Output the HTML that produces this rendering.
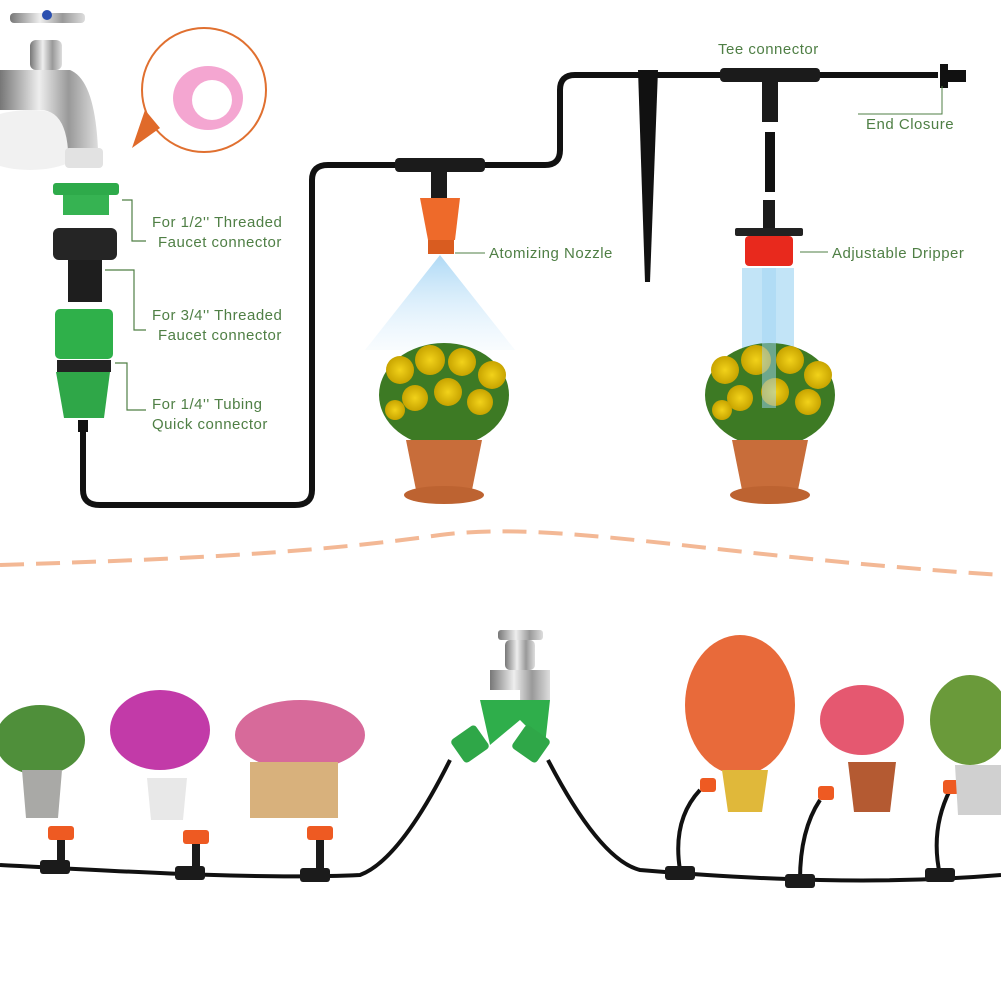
<!DOCTYPE html>
<html><head><meta charset="utf-8"><style>
html,body{margin:0;padding:0;background:#fff;}
svg{display:block;}
text{font-family:"Liberation Sans",sans-serif;font-size:15px;fill:#4f7f45;letter-spacing:0.5px;}
</style></head><body>
<svg width="1001" height="1001" viewBox="0 0 1001 1001" xmlns="http://www.w3.org/2000/svg">
<defs>
<linearGradient id="chrome" x1="0" x2="1"><stop offset="0" stop-color="#777"/><stop offset="0.4" stop-color="#eee"/><stop offset="0.7" stop-color="#999"/><stop offset="1" stop-color="#ddd"/></linearGradient>
<linearGradient id="spray" x1="0" y1="0" x2="0" y2="1"><stop offset="0" stop-color="#7fc3f0" stop-opacity="0.9"/><stop offset="1" stop-color="#cfe9fb" stop-opacity="0.2"/></linearGradient>
<radialGradient id="yfl" cx="0.5" cy="0.5" r="0.5"><stop offset="0" stop-color="#f2d21a"/><stop offset="1" stop-color="#c8a400"/></radialGradient>
</defs>
<!-- faucet top-left -->
<ellipse cx="30" cy="140" rx="60" ry="30" fill="#e8e8e8" opacity="0.6"/>
<rect x="10" y="13" width="75" height="10" rx="4" fill="url(#chrome)"/>
<circle cx="47" cy="15" r="5" fill="#2a4fb0"/>
<rect x="30" y="40" width="32" height="30" rx="6" fill="url(#chrome)"/>
<path d="M0 70 L70 70 Q95 80 98 150 L68 150 Q65 110 40 110 L0 110 Z" fill="url(#chrome)"/>
<rect x="65" y="148" width="38" height="20" rx="4" fill="#e2e2e2"/>
<!-- tape bubble -->
<circle cx="204" cy="90" r="62" fill="#fff" stroke="#e07030" stroke-width="2"/>
<path d="M145 110 L132 148 L160 128 Z" fill="#e06a2a"/>
<ellipse cx="208" cy="98" rx="35" ry="32" fill="#f4a6d1"/>
<ellipse cx="212" cy="100" rx="20" ry="20" fill="#fff"/>
<!-- green connectors -->
<rect x="53" y="183" width="66" height="12" rx="3" fill="#2eaa4a"/>
<rect x="63" y="195" width="46" height="20" fill="#36b352"/>
<rect x="53" y="228" width="64" height="32" rx="6" fill="#252525"/>
<rect x="68" y="260" width="34" height="42" fill="#1e1e1e"/>
<rect x="55" y="309" width="58" height="50" rx="5" fill="#2fb04a"/>
<rect x="57" y="360" width="54" height="12" fill="#222"/>
<path d="M56 372 L110 372 L104 418 L64 418 Z" fill="#2fa748"/>
<rect x="78" y="420" width="10" height="12" fill="#111"/>
<!-- brackets -->
<path d="M122 200 L132 200 L132 241 L146 241" fill="none" stroke="#4f7f45" stroke-width="1.2"/>
<path d="M105 270 L134 270 L134 330 L146 330" fill="none" stroke="#4f7f45" stroke-width="1.2"/>
<path d="M115 363 L127 363 L127 410 L146 410" fill="none" stroke="#4f7f45" stroke-width="1.2"/>
<text x="152" y="227">For 1/2'' Threaded</text>
<text x="158" y="247">Faucet connector</text>
<text x="152" y="320">For 3/4'' Threaded</text>
<text x="158" y="340">Faucet connector</text>
<text x="152" y="409">For 1/4'' Tubing</text>
<text x="152" y="429">Quick connector</text>
<!-- tubing -->
<path d="M83 430 L83 490 Q83 505 100 505 L295 505 Q312 505 312 490 L312 180 Q312 165 328 165 L400 165 M485 165 L545 165 Q560 165 560 150 L560 90 Q560 75 575 75 L720 75 M820 75 L938 75" fill="none" stroke="#111" stroke-width="6"/>
<!-- tee at nozzle -->
<rect x="395" y="158" width="90" height="14" rx="4" fill="#1b1b1b"/>
<rect x="431" y="170" width="16" height="28" fill="#1b1b1b"/>
<path d="M420 198 L460 198 L455 240 L428 240 Z" fill="#ee6a2a"/>
<rect x="428" y="240" width="26" height="14" fill="#d95c20"/>
<path d="M440 255 L365 350 L515 350 Z" fill="url(#spray)" opacity="0.7"/>
<!-- spike -->
<path d="M638 70 L658 70 L650 282 L645 282 Z" fill="#111"/>
<!-- tee connector -->
<rect x="720" y="68" width="100" height="14" rx="4" fill="#1b1b1b"/>
<rect x="762" y="80" width="16" height="42" fill="#1b1b1b"/>
<rect x="765" y="132" width="10" height="60" fill="#111"/>
<rect x="940" y="64" width="8" height="24" fill="#111"/>
<rect x="946" y="70" width="20" height="12" fill="#111"/>
<path d="M942 86 L942 114 L858 114" fill="none" stroke="#4f7f45" stroke-width="1"/>
<text x="718" y="54">Tee connector</text>
<text x="866" y="129">End Closure</text>
<!-- dripper -->
<rect x="763" y="200" width="12" height="30" fill="#1b1b1b"/>
<rect x="735" y="228" width="68" height="8" rx="2" fill="#222"/>
<rect x="745" y="236" width="48" height="30" rx="4" fill="#e8291d"/>
<rect x="742" y="268" width="52" height="90" fill="#8fcdf0" opacity="0.55"/>
<path d="M455 253 L485 253" stroke="#4f7f45" stroke-width="1"/>
<text x="489" y="258">Atomizing Nozzle</text>
<path d="M800 252 L828 252" stroke="#4f7f45" stroke-width="1"/>
<text x="832" y="258">Adjustable Dripper</text>
<!-- pot 1 -->
<ellipse cx="444" cy="395" rx="65" ry="52" fill="#3d7a24"/>
<g fill="url(#yfl)">
<circle cx="400" cy="370" r="14"/><circle cx="430" cy="360" r="15"/><circle cx="462" cy="362" r="14"/><circle cx="492" cy="375" r="14"/><circle cx="415" cy="398" r="13"/><circle cx="448" cy="392" r="14"/><circle cx="480" cy="402" r="13"/><circle cx="395" cy="410" r="10"/>
</g>
<path d="M406 440 L482 440 L472 490 L416 490 Z" fill="#c86d3a"/>
<ellipse cx="444" cy="495" rx="40" ry="9" fill="#bd6331"/>
<!-- pot 2 -->
<ellipse cx="770" cy="395" rx="65" ry="52" fill="#3d7a24"/>
<g fill="url(#yfl)">
<circle cx="725" cy="370" r="14"/><circle cx="756" cy="360" r="15"/><circle cx="790" cy="360" r="14"/><circle cx="818" cy="375" r="14"/><circle cx="740" cy="398" r="13"/><circle cx="775" cy="392" r="14"/><circle cx="808" cy="402" r="13"/><circle cx="722" cy="410" r="10"/>
</g>
<rect x="762" y="268" width="14" height="140" fill="#9fd4f3" opacity="0.5"/>
<path d="M732 440 L808 440 L798 490 L742 490 Z" fill="#c86d3a"/>
<ellipse cx="770" cy="495" rx="40" ry="9" fill="#bd6331"/>
<!-- dashed curve -->
<path d="M0 565 C150 560 300 555 440 535 C560 520 700 555 1001 575" fill="none" stroke="#f3b895" stroke-width="4" stroke-dasharray="24 12"/>
<!-- bottom tubing -->
<path d="M0 865 C100 870 250 880 360 875 Q400 860 450 760 M548 760 Q600 860 640 870 C760 880 880 885 1001 875" fill="none" stroke="#111" stroke-width="4"/>
<path d="M680 870 Q672 820 700 790 M800 880 Q800 830 820 800 M940 875 Q930 830 950 790" fill="none" stroke="#111" stroke-width="4"/>
<g fill="#1b1b1b">
<rect x="40" y="860" width="30" height="14" rx="3"/><rect x="175" y="866" width="30" height="14" rx="3"/><rect x="300" y="868" width="30" height="14" rx="3"/>
<rect x="665" y="866" width="30" height="14" rx="3"/><rect x="785" y="874" width="30" height="14" rx="3"/><rect x="925" y="868" width="30" height="14" rx="3"/>
<rect x="57" y="835" width="8" height="30"/><rect x="192" y="840" width="8" height="30"/><rect x="316" y="838" width="8" height="30"/>
</g>
<g fill="#ee5a22">
<rect x="48" y="826" width="26" height="14" rx="3"/><rect x="183" y="830" width="26" height="14" rx="3"/><rect x="307" y="826" width="26" height="14" rx="3"/>
<rect x="700" y="778" width="16" height="14" rx="3"/><rect x="818" y="786" width="16" height="14" rx="3"/><rect x="943" y="780" width="16" height="14" rx="3"/>
</g>
<!-- bottom faucet & Y -->
<rect x="498" y="630" width="45" height="10" rx="3" fill="url(#chrome)"/>
<rect x="505" y="640" width="30" height="30" rx="5" fill="url(#chrome)"/>
<path d="M490 670 L550 670 L550 700 L520 700 L520 690 L490 690 Z" fill="url(#chrome)"/>
<path d="M480 700 L550 700 L545 745 L520 720 L490 745 Z" fill="#2fae4b"/>
<rect x="455" y="730" width="30" height="28" rx="4" fill="#2fa748" transform="rotate(-35 470 744)"/>
<rect x="516" y="730" width="30" height="28" rx="4" fill="#2fa748" transform="rotate(35 531 744)"/>
<!-- plants -->
<ellipse cx="40" cy="740" rx="45" ry="35" fill="#4f8f3a"/>
<path d="M22 770 L62 770 L58 818 L26 818 Z" fill="#a9a9a6"/>
<ellipse cx="160" cy="730" rx="50" ry="40" fill="#c23aa8"/>
<path d="M147 778 L187 778 L183 820 L151 820 Z" fill="#e8e8e8"/>
<ellipse cx="300" cy="735" rx="65" ry="35" fill="#d76a9a"/>
<rect x="250" y="762" width="88" height="56" fill="#d8b17c"/>
<ellipse cx="740" cy="705" rx="55" ry="70" fill="#e86a3a"/>
<path d="M722 770 L768 770 L762 812 L728 812 Z" fill="#e0b83a"/>
<ellipse cx="862" cy="720" rx="42" ry="35" fill="#e55870"/>
<path d="M848 762 L896 762 L890 812 L854 812 Z" fill="#b45a32"/>
<ellipse cx="970" cy="720" rx="40" ry="45" fill="#6a9a3a"/>
<path d="M955 765 L1001 765 L1001 815 L958 815 Z" fill="#d0d0d0"/>
</svg>
</body></html>
